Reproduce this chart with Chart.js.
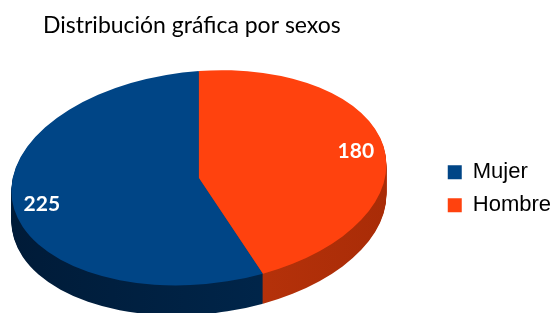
<!DOCTYPE html>
<html>
<head>
<meta charset="utf-8">
<script src="https://cdn.jsdelivr.net/npm/chart.js@4/dist/chart.umd.min.js"></script>
<style>
  html, body { margin: 0; padding: 0; background: #fff; }
  #wrap { width: 553px; height: 313px; position: relative; }
</style>
</head>
<body>
<div id="wrap"><canvas id="pie-chart-canvas"></canvas></div>
<script>
const chartTitle = 'Distribución gráfica por sexos';
const labels = ['Mujer', 'Hombre'];
const values = [225, 180];
const topColors = ['#004586', '#ff420e'];
const sideColors = [['#001b38', '#002a52'], ['#cc3c10', '#a92c07']];

// fake 3D view: squash, tilt and extrude the library's pie
const view = { shiftX: -41, shiftY: -11, scaleX: 1.51, scaleY: 0.86, skew: -0.07, depth: 30 };

function applyView(ctx, chart, d) {
    const a = chart.getDatasetMeta(0).data[0];
    ctx.translate(a.x + view.shiftX, a.y + view.shiftY + d);
    ctx.transform(1, view.skew, 0, 1, 0, 0);
    ctx.scale(view.scaleX, view.scaleY);
    ctx.translate(-a.x, -a.y);
}

function toScreen(chart, x, y) {
    const a = chart.getDatasetMeta(0).data[0];
    const lx = (x - a.x) * view.scaleX;
    const ly = (y - a.y) * view.scaleY;
    return { x: a.x + view.shiftX + lx, y: a.y + view.shiftY + ly + view.skew * lx };
}

const pie3d = {
    id: 'pie3d',
    beforeDatasetsDraw(chart) {
        const ctx = chart.ctx;
        const arcs = chart.getDatasetMeta(0).data;
        const a0 = arcs[0];
        for (let d = view.depth; d > 0; d--) {
            ctx.save();
            applyView(ctx, chart, d);
            arcs.forEach((arc, i) => {
                const grad = ctx.createLinearGradient(a0.x - a0.outerRadius, 0, a0.x + a0.outerRadius, 0);
                grad.addColorStop(0, sideColors[i][0]);
                grad.addColorStop(1, sideColors[i][1]);
                const o = arc.options;
                arc.options = Object.assign({}, o, { backgroundColor: grad });
                arc.draw(ctx);
                arc.options = o;
            });
            ctx.restore();
        }
        ctx.save();
        applyView(ctx, chart, 0);
    },
    afterDatasetsDraw(chart) {
        const ctx = chart.ctx;
        ctx.restore();
        const arcs = chart.getDatasetMeta(0).data;
        ctx.save();
        ctx.fillStyle = '#ffffff';
        ctx.font = 'bold 21px Lato';
        ctx.textAlign = 'center';
        ctx.textBaseline = 'middle';
        arcs.forEach((arc, i) => {
            const mid = (arc.startAngle + arc.endAngle) / 2;
            const r = arc.outerRadius * 0.85;
            const p = toScreen(chart, arc.x + Math.cos(mid) * r, arc.y + Math.sin(mid) * r);
            ctx.fillText(String(values[i]), p.x, p.y);
        });
        ctx.restore();
    }
};

const ctx = document.getElementById('pie-chart-canvas').getContext('2d');
const config = {
    type: 'pie',
    data: {
        labels: labels,
        datasets: [{
            data: values,
            backgroundColor: topColors,
            borderWidth: 0
        }]
    },
    options: {
        responsive: true,
        maintainAspectRatio: false,
        animation: false,
        rotation: 160,
        layout: { padding: { left: 43, right: -8, top: 0, bottom: 0 } },
        plugins: {
            title: {
                display: true,
                text: chartTitle,
                align: 'start',
                fullSize: false,
                color: '#000000',
                font: { family: 'Lato', size: 23, weight: 'normal' },
                padding: { top: 12, bottom: 25 }
            },
            legend: {
                position: 'right',
                fullSize: false,
                labels: {
                    boxWidth: 14,
                    boxHeight: 14,
                    padding: 11,
                    color: '#000000',
                    font: { family: 'Liberation Sans', size: 22 }
                }
            },
            tooltip: { enabled: false }
        }
    },
    plugins: [pie3d]
};
const pieChart = new Chart(ctx, config);
</script>
</body>
</html>
